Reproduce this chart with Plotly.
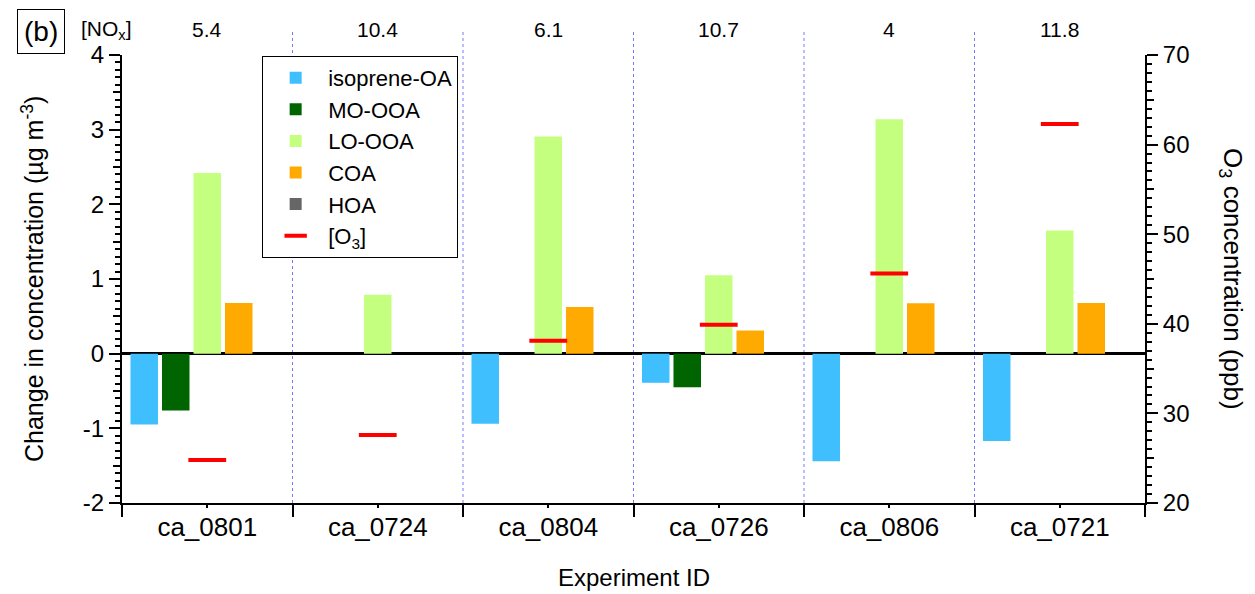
import plotly.graph_objects as go

# Experiments and measured quantities
experiments = ["ca_0801", "ca_0724", "ca_0804", "ca_0726", "ca_0806", "ca_0721"]
nox_ppb = ["5.4", "10.4", "6.1", "10.7", "4", "11.8"]

isoprene_oa = [-0.95, 0.0, -0.94, -0.39, -1.44, -1.17]
mo_ooa = [-0.76, 0.0, 0.0, -0.45, 0.0, 0.0]
lo_ooa = [2.42, 0.79, 2.91, 1.05, 3.14, 1.65]
coa = [0.68, 0.0, 0.625, 0.31, 0.675, 0.68]
hoa = [0.0, 0.0, 0.0, 0.0, 0.0, 0.0]
o3_ppb = [24.8, 27.6, 38.1, 39.9, 45.6, 62.3]

conc_ticks = [-2, -1, 0, 1, 2, 3, 4]
conc_tick_text = ["-2", "-1", "0", "1", "2", "3", "4"]

FONT = "Arial, Liberation Sans, sans-serif"

fig = go.Figure()

factors = [
    ("isoprene-OA", isoprene_oa, "#40BFFF"),
    ("MO-OOA", mo_ooa, "#006400"),
    ("LO-OOA", lo_ooa, "#C4FF80"),
    ("COA", coa, "#FFAA00"),
    ("HOA", hoa, "#666666"),
]
for name, vals, col in factors:
    fig.add_trace(go.Bar(x=experiments, y=vals, name=name,
                         marker=dict(color=col, line=dict(width=0)),
                         xaxis="x", yaxis="y"))

fig.add_trace(go.Scatter(
    x=experiments, y=o3_ppb, name="[O<sub>3</sub>]", mode="markers",
    marker=dict(symbol="line-ew", size=27,
                line=dict(color="#FF0000", width=4)),
    xaxis="x", yaxis="y2"))

# Empty traces that carry the extra tick axes
fig.add_trace(go.Scatter(x=[None], y=[None], yaxis="y3", showlegend=False,
                         hoverinfo="skip"))
fig.add_trace(go.Scatter(x=[None], y=[None], yaxis="y4", showlegend=False,
                         hoverinfo="skip"))
fig.add_trace(go.Scatter(x=[None], y=[None], xaxis="x2", yaxis="y",
                         showlegend=False, hoverinfo="skip"))

fig.update_layout(
    width=1255, height=594,
    margin=dict(l=122, r=110, t=55, b=91),
    paper_bgcolor="white", plot_bgcolor="white",
    font=dict(family=FONT, size=24, color="black"),
    barmode="group", bargap=0.076, bargroupgap=0.127,
    xaxis=dict(
        type="category", categoryorder="array", categoryarray=experiments,
        range=[-0.5, 5.5], showline=True, linecolor="black", linewidth=2,
        ticks="outside", tickson="boundaries", ticklen=12, tickwidth=2,
        tickcolor="black", tickfont=dict(family=FONT, size=26, color="black"),
        showgrid=False, zeroline=False,
    ),
    xaxis2=dict(
        overlaying="x", anchor="y", side="bottom", range=[-0.5, 5.5],
        tickvals=[0, 1, 2, 3, 4, 5], ticks="outside", ticklen=4,
        tickwidth=1.5, tickcolor="black", showticklabels=False,
        showgrid=False, zeroline=False, showline=False,
    ),
    yaxis=dict(
        range=[-2, 4], tickvals=conc_ticks, ticktext=conc_tick_text,
        showline=True, linecolor="black",
        linewidth=2, ticks="outside", ticklen=11, tickwidth=2,
        tickcolor="black", tickfont=dict(family=FONT, size=24, color="black"),
        showgrid=False,
        zeroline=True, zerolinecolor="black", zerolinewidth=2.5,
        minor=dict(dtick=0.1, tick0=0, ticks="outside", ticklen=5,
                   tickwidth=1.5, tickcolor="black", showgrid=False),
    ),
    yaxis3=dict(
        overlaying="y", anchor="x", side="left", range=[-2, 4],
        tickvals=[-1.5, -0.5, 0.5, 1.5, 2.5, 3.5], ticks="outside",
        ticklen=8, tickwidth=1.5, tickcolor="black", showticklabels=False,
        showgrid=False, zeroline=False, showline=False,
    ),
    yaxis2=dict(
        overlaying="y", anchor="x", side="right", range=[20, 70], dtick=10,
        showline=True, linecolor="black", linewidth=2, ticks="outside",
        ticklen=11, tickwidth=2, tickcolor="black",
        tickfont=dict(family=FONT, size=24, color="black"),
        showgrid=False, zeroline=False,
        minor=dict(dtick=1, ticks="outside", ticklen=5, tickwidth=1.5,
                   tickcolor="black", showgrid=False),
    ),
    yaxis4=dict(
        overlaying="y", anchor="x", side="right", range=[20, 70],
        tickvals=[25, 35, 45, 55, 65], ticks="outside", ticklen=8,
        tickwidth=1.5, tickcolor="black", showticklabels=False,
        showgrid=False, zeroline=False, showline=False,
    ),
    legend=dict(
        x=0.137, y=0.998, xanchor="left", yanchor="top",
        bgcolor="white", bordercolor="black", borderwidth=1,
        font=dict(family=FONT, size=22, color="black"),
        traceorder="normal", itemwidth=55, tracegroupgap=0,
    ),
    showlegend=True,
)

# Dotted separators between experiments
for b in [0.5, 1.5, 2.5, 3.5, 4.5]:
    fig.add_shape(type="line", xref="x", yref="paper", x0=b, x1=b,
                  y0=0, y1=1.052, layer="below",
                  line=dict(color="rgb(120,120,255)", width=1, dash="dot"))

annotations = []
# NOx concentration above each experiment
for exp, nox in zip(experiments, nox_ppb):
    annotations.append(dict(x=exp, xref="x", y=1.056, yref="paper",
                            xanchor="center", yanchor="middle",
                            text=nox, showarrow=False,
                            font=dict(family=FONT, size=21, color="black")))
annotations += [
    dict(x=-0.0147, xref="paper", y=1.056, yref="paper",
         xanchor="center", yanchor="middle",
         text="[NO<sub>x</sub>]", showarrow=False,
         font=dict(family=FONT, size=21, color="black")),
    dict(x=-0.0792, xref="paper", y=1.052, yref="paper", text="(b)",
         xanchor="center", yanchor="middle",
         showarrow=False, bordercolor="black", borderwidth=1, borderpad=6,
         font=dict(family=FONT, size=28, color="black")),
    dict(x=-0.087, xref="paper", y=0.5, yref="paper",
         xanchor="center", yanchor="middle",
         text="Change in concentration (\u00b5g m<sup>-3</sup>)",
         textangle=-90, showarrow=False,
         font=dict(family=FONT, size=25, color="black")),
    dict(x=1.085, xref="paper", y=0.5, yref="paper",
         xanchor="center", yanchor="middle",
         text="O<sub>3</sub> concentration (ppb)",
         textangle=90, showarrow=False,
         font=dict(family=FONT, size=26, color="black")),
    dict(x=0.5, xref="paper", y=-0.167, yref="paper",
         xanchor="center", yanchor="middle",
         text="Experiment ID", showarrow=False,
         font=dict(family=FONT, size=24, color="black")),
]
fig.update_layout(annotations=annotations)

fig.write_html("out.html")
